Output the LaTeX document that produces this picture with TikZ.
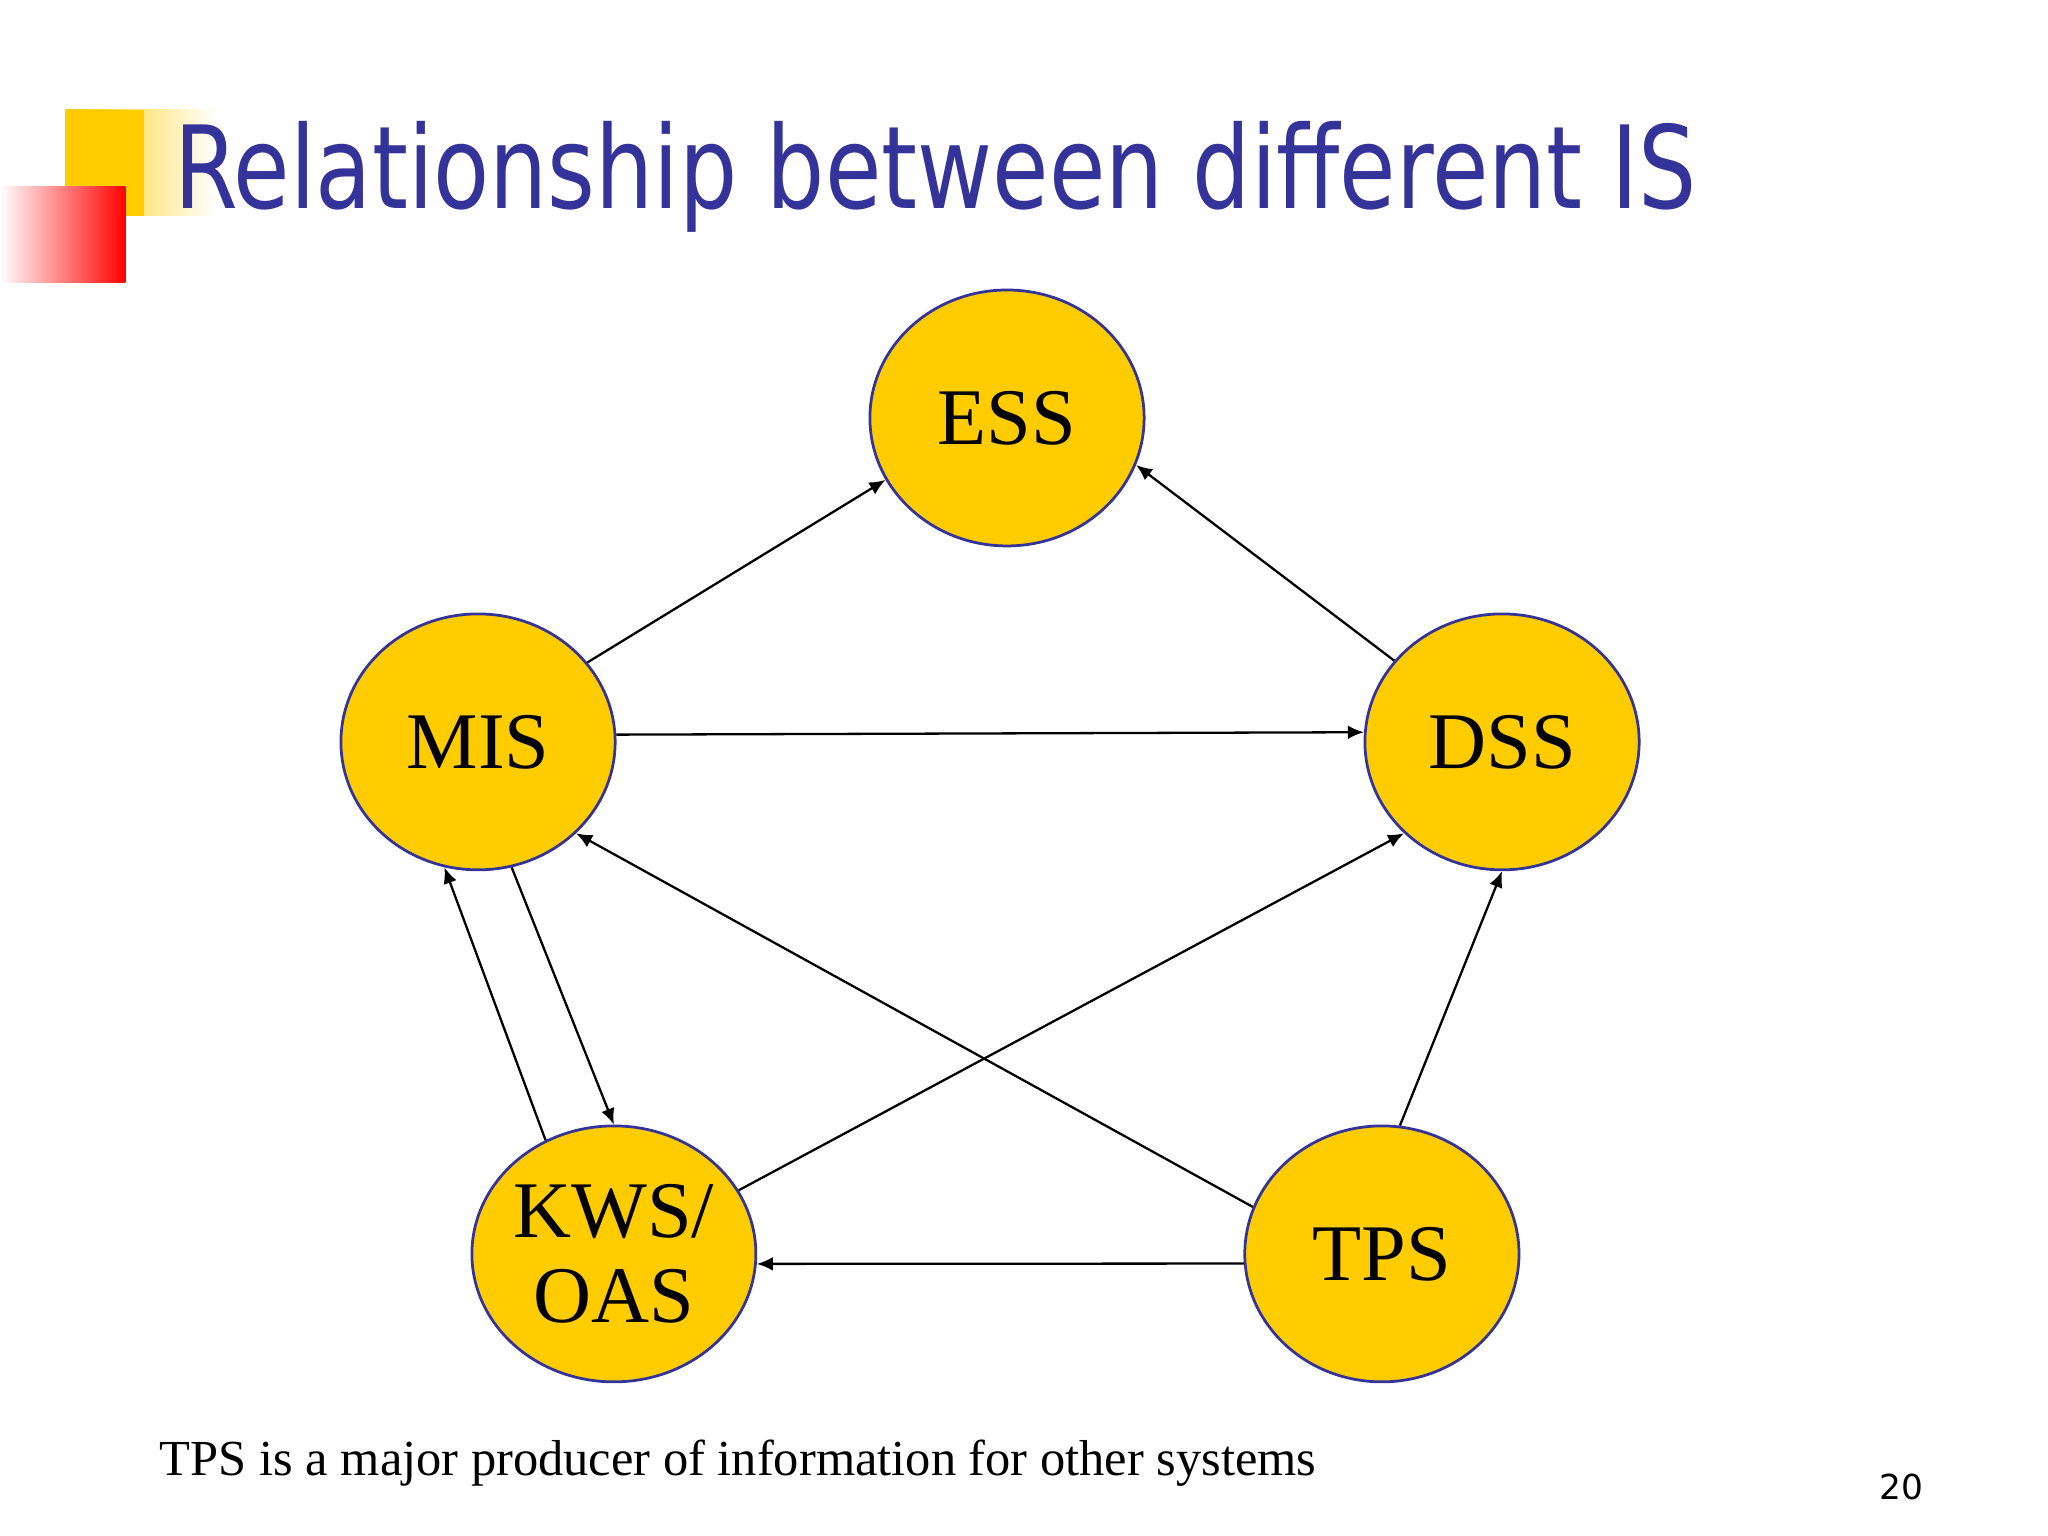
\documentclass[tikz,border=0pt]{standalone}
\usepackage{fontspec}
\setmainfont{Liberation Serif}
\newfontfamily\titlefont{DejaVu Sans}
\usetikzlibrary{shapes.geometric,arrows.meta}
\definecolor{gold}{RGB}{255,204,0}
\definecolor{navy}{RGB}{51,51,153}
\tikzset{sys/.style={ellipse,draw=navy,line width=1.2pt,fill=gold,minimum width=4.2cm,minimum height=3.92cm,inner sep=0pt,font=\fontsize{35}{37}\selectfont,align=center},
 arr/.style={-{Latex[length=7pt,width=6pt]},line width=1pt}}
\begin{document}
\begin{tikzpicture}[x=0.02cm,y=-0.02cm]
\useasboundingbox (0,0) rectangle (1568,1176);
\fill[white] (0,0) rectangle (1568,1176);
\shade[left color=gold,right color=white] (50,84) rectangle (165,165);
\fill[gold] (50,84) rectangle (110,165);
\shade[left color=white,right color=red] (0,143) rectangle (96,216);
\node[anchor=base west,text=navy,inner sep=0,xscale=0.8,transform shape,font=\titlefont\fontsize{50}{52}\selectfont] (title) at (133,160) {Relationship between different IS};
\node[sys] (ESS) at (771,320) {ESS};
\node[sys] (MIS) at (366,568) {MIS};
\node[sys] (DSS) at (1150,568) {DSS};
\node[sys] (KWS) at (470,960) {KWS/\\OAS};
\node[sys] (TPS) at (1058,960) {TPS};
\draw[arr] (MIS.36) -- (ESS.207);
\draw[arr] (DSS.143) -- (ESS.340);
\draw[arr] (MIS.3.5) -- (DSS.176.5);
\draw[arr] (TPS.160) -- (MIS.317);
\draw[arr] (KWS.27) -- (DSS.223);
\draw[arr] (MIS.285) -- (KWS.90);
\draw[arr] (KWS.121) -- (MIS.255);
\draw[arr] (TPS.82) -- (DSS.270);
\draw[arr] (TPS.184) -- (KWS.356);
\node[anchor=base west,inner sep=0,font=\fontsize{22}{24}\selectfont] (note) at (122,1130) {TPS is a major producer of information for other systems};
\node[anchor=base east,inner sep=0,font=\titlefont\fontsize{15}{17}\selectfont] (pg) at (1473,1148) {20};
\end{tikzpicture}
\end{document}
